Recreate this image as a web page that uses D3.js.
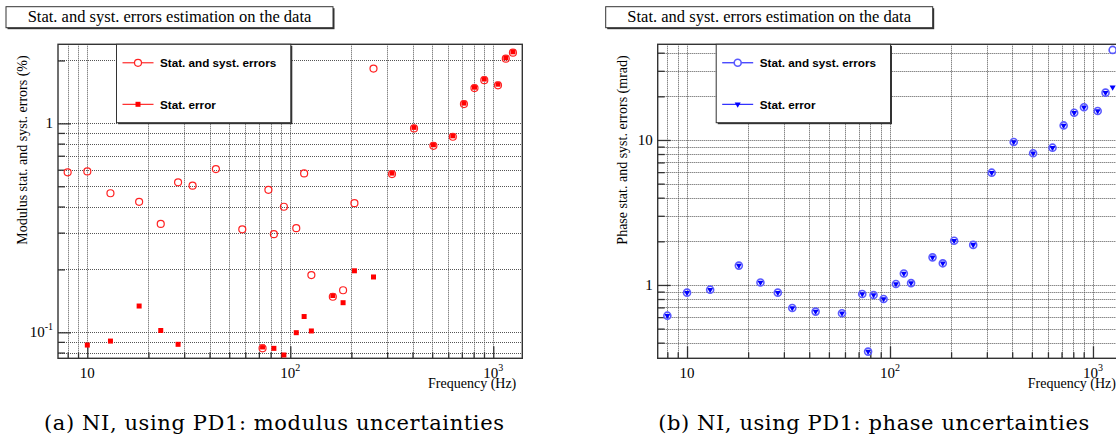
<!DOCTYPE html>
<html>
<head>
<meta charset="utf-8">
<script src="https://cdn.jsdelivr.net/npm/d3@7/dist/d3.min.js"></script>
<style>
    body { margin: 0; background: #fff; }
    svg { display: block; }
    text { font-family: "Liberation Serif", "Times New Roman", serif; fill: #000; }
    .leg text { font-family: "Liberation Sans", Arial, sans-serif; font-weight: bold; }
    text.caption { font-family: "DejaVu Serif", "Liberation Serif", serif; }
</style>
</head>
<body>
<div id="chart"></div>
<script>
// frequencies (Hz) shared by both panels
var freq = [8, 10, 13, 18, 23, 28, 33, 43, 58, 73, 78, 83, 93, 107, 117, 127, 162, 182, 207, 257,
            317, 407, 507, 632, 717, 808, 903, 1055, 1153, 1250];

// modulus uncertainties (%)
var modTotal = [0.583, 0.589, 0.463, 0.421, 0.330, 0.522, 0.503, 0.604, 0.311, 0.0838, 0.481, 0.295, 0.399, 0.315, 0.576, 0.188, 0.148, 0.159, 0.415, 1.83,
                0.572, 0.946, 0.781, 0.863, 1.237, 1.475, 1.61, 1.52, 2.04, 2.18];
var modStat = [null, 0.0869, 0.0908, 0.1336, 0.102, 0.0876, null, null, null, 0.0851, null, 0.0838, 0.0779, 0.0996, 0.119, 0.1015, 0.150, 0.1386, 0.197, 0.184,
               0.578, 0.957, 0.790, 0.872, 1.25, 1.49, 1.63, 1.54, 2.06, 2.20];

// phase uncertainties (mrad)
var phaseTotal = [0.614, 0.885, 0.928, 1.36, 1.04, 0.885, 0.694, 0.655, 0.638, 0.867, 0.347, 0.853, 0.800, 1.016, 1.20, 1.03, 1.55, 1.41, 2.02, 1.89,
                  5.95, 9.68, 8.09, 8.85, 12.6, 15.4, 16.8, 15.85, 21.2, 41.8];
var phaseStat = [0.614, 0.885, 0.928, 1.36, 1.04, 0.885, 0.694, 0.655, 0.638, 0.867, 0.347, 0.853, 0.800, 1.016, 1.20, 1.03, 1.55, 1.41, 2.02, 1.89,
                 5.95, 9.68, 8.09, 8.85, 12.6, 15.4, 16.8, 15.85, 21.2, 23.1];

var xTickValues = [10, 100, 1000];
var modTickValues = [0.1, 1];
var phaseTickValues = [1, 10];
var legendLabels = ["Stat. and syst. errors", "Stat. error"];
var titleText = "Stat. and syst. errors estimation on the data";

var W = 1116, H = 445;
var svg = d3.select("#chart").append("svg").attr("width", W).attr("height", H);

function drawPanel(cfg) {
    var left = cfg.left, top = 44.3, right = cfg.left + 464.3, bottom = 358.3;
    var x = d3.scaleLog().domain([7.17, 1390]).range([left, right]);
    var y = d3.scaleLog().domain(cfg.yDomain).range([bottom, top]);
    var g = svg.append("g");

    var xMinor = x.ticks().filter(function (v) { return xTickValues.indexOf(v) < 0; });
    var yMinor = y.ticks().filter(function (v) { return cfg.yTicks.indexOf(v) < 0; });

    // grid
    var grid = g.append("g").attr("stroke", "#555").attr("stroke-width", 1).attr("stroke-dasharray", "1,1");
    grid.selectAll("line.gx").data(x.ticks()).enter().append("line")
        .attr("x1", function (d) { return Math.round(x(d)) + 0.5; })
        .attr("x2", function (d) { return Math.round(x(d)) + 0.5; })
        .attr("y1", top).attr("y2", bottom);
    grid.selectAll("line.gy").data(y.ticks()).enter().append("line")
        .attr("y1", function (d) { return Math.round(y(d)) + 0.5; })
        .attr("y2", function (d) { return Math.round(y(d)) + 0.5; })
        .attr("x1", left).attr("x2", right);

    // axes with inward ticks
    function addAxis(axis, tr) {
        var a = g.append("g").attr("transform", tr).call(axis);
        a.select(".domain").remove();
        a.selectAll("line").attr("stroke", "#333").attr("stroke-width", 1.3);
        return a;
    }
    addAxis(d3.axisBottom(x).tickValues(xMinor).tickSize(-6).tickFormat(""), "translate(0," + bottom + ")");
    addAxis(d3.axisBottom(x).tickValues(xTickValues).tickSize(-12).tickFormat(""), "translate(0," + bottom + ")");
    addAxis(d3.axisLeft(y).tickValues(yMinor).tickSize(-7).tickFormat(""), "translate(" + left + ",0)");
    addAxis(d3.axisLeft(y).tickValues(cfg.yTicks).tickSize(-13).tickFormat(""), "translate(" + left + ",0)");

    // frame
    g.append("rect").attr("x", left).attr("y", top).attr("width", right - left).attr("height", bottom - top)
        .attr("fill", "none").attr("stroke", "#333").attr("stroke-width", 1.4);

    // tick labels
    function label(sel, v) {
        var e = Math.round(Math.log10(v));
        if (v === 1 || v === 10) {
            sel.text(String(v));
        } else {
            sel.append("tspan").text("10");
            sel.append("tspan").attr("font-size", "10px").attr("dy", -7).text(String(e));
        }
    }
    xTickValues.forEach(function (v) {
        var t = g.append("text").attr("x", x(v)).attr("y", bottom + 20)
            .attr("text-anchor", "middle").attr("font-size", "15px");
        label(t, v);
    });
    cfg.yTicks.forEach(function (v) {
        var t = g.append("text").attr("x", left - 5).attr("y", y(v) + 5)
            .attr("text-anchor", "end").attr("font-size", "15px");
        label(t, v);
    });

    // axis titles
    g.append("text").attr("x", right - 6).attr("y", bottom + 30).attr("text-anchor", "end")
        .attr("font-size", "14px").text("Frequency (Hz)");
    g.append("text").attr("transform", "translate(" + (left - 31) + "," + (top + 11) + ") rotate(-90)")
        .attr("text-anchor", "end").attr("font-size", "14px").text(cfg.yTitle);

    // markers
    var pts = freq.map(function (f, i) { return { f: f, tot: cfg.total[i], stat: cfg.stat[i] }; });
    var sym = d3.symbol().type(cfg.statSymbol).size(cfg.statSize);
    g.selectAll("path.stat").data(pts.filter(function (d) { return d.stat != null; })).enter().append("path")
        .attr("d", sym)
        .attr("transform", function (d) { return "translate(" + x(d.f) + "," + y(d.stat) + ")" + cfg.symRotate; })
        .attr("fill", cfg.color);
    g.selectAll("circle.tot").data(pts.filter(function (d) { return d.tot != null; })).enter().append("circle")
        .attr("cx", function (d) { return x(d.f); })
        .attr("cy", function (d) { return y(d.tot); })
        .attr("r", 3.5).attr("fill", "none")
        .attr("stroke", cfg.ring).attr("stroke-width", cfg.ringWidth);

    // title box with shadow
    var tb = { x: left - 52, y: 6.7, w: 327, h: 21 };
    g.append("rect").attr("x", tb.x + 1.5).attr("y", tb.y + 1.5).attr("width", tb.w).attr("height", tb.h).attr("fill", "#333");
    g.append("rect").attr("x", tb.x).attr("y", tb.y).attr("width", tb.w).attr("height", tb.h)
        .attr("fill", "#fff").attr("stroke", "#333").attr("stroke-width", 1);
    g.append("text").attr("x", tb.x + tb.w / 2).attr("y", 21.5).attr("text-anchor", "middle")
        .attr("font-size", "16.5px").text(titleText);

    // legend
    var lb = { x: left + 58.5, y: top, w: 174.3, h: 78.4 };
    var leg = g.append("g").attr("class", "leg");
    leg.append("rect").attr("x", lb.x + 1.5).attr("y", lb.y + 1.5).attr("width", lb.w).attr("height", lb.h).attr("fill", "#333");
    leg.append("rect").attr("x", lb.x).attr("y", lb.y).attr("width", lb.w).attr("height", lb.h)
        .attr("fill", "#fff").attr("stroke", "#333").attr("stroke-width", 1);
    [18.5, 60].forEach(function (dy, i) {
        var ry = lb.y + dy;
        leg.append("line").attr("x1", lb.x + 6).attr("x2", lb.x + 37).attr("y1", ry).attr("y2", ry)
            .attr("stroke", cfg.color).attr("stroke-width", 1);
        if (i === 0) {
            leg.append("circle").attr("cx", lb.x + 21.5).attr("cy", ry).attr("r", 3.5)
                .attr("fill", "#fff").attr("stroke", cfg.ring).attr("stroke-width", cfg.ringWidth);
        } else {
            leg.append("path").attr("d", sym)
                .attr("transform", "translate(" + (lb.x + 21.5) + "," + ry + ")" + cfg.symRotate)
                .attr("fill", cfg.color);
        }
        leg.append("text").attr("x", lb.x + 43.5).attr("y", ry + 4.3).attr("font-size", "11.7px").text(legendLabels[i]);
    });

    // caption
    svg.append("text").attr("class", "caption").attr("x", left + 216).attr("y", 430).attr("text-anchor", "middle")
        .attr("font-size", "21px").attr("textLength", cfg.captionLength).attr("lengthAdjust", "spacing")
        .text(cfg.caption);
}

drawPanel({
    left: 58,
    yDomain: [0.0751, 2.39],
    yTicks: modTickValues,
    total: modTotal,
    stat: modStat,
    color: "#f00",
    ring: "#f22",
    ringWidth: 1.2,
    statSymbol: d3.symbolSquare,
    statSize: 25,
    symRotate: "",
    yTitle: "Modulus stat. and syst. errors (%)",
    caption: "(a) NI, using PD1: modulus uncertainties",
    captionLength: 460
});

drawPanel({
    left: 657.7,
    yDomain: [0.312, 45.7],
    yTicks: phaseTickValues,
    total: phaseTotal,
    stat: phaseStat,
    color: "#00f",
    ring: "#5a5aff",
    ringWidth: 1.6,
    statSymbol: d3.symbolTriangle,
    statSize: 16,
    symRotate: " rotate(180)",
    yTitle: "Phase stat. and syst. errors (mrad)",
    caption: "(b) NI, using PD1: phase uncertainties",
    captionLength: 431
});
</script>
</body>
</html>
